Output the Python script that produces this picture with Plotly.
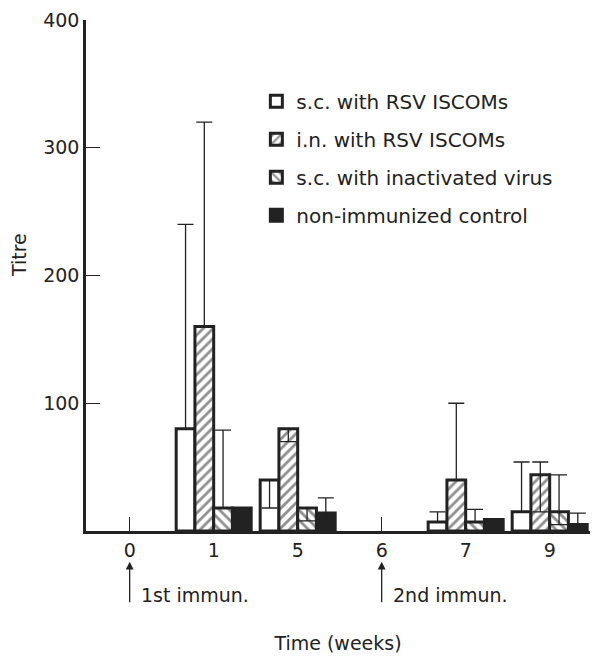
import plotly.graph_objects as go

# weeks after first immunization (category axis)
weeks = ["0", "1", "5", "6", "7", "9"]

# titres, None = no bar
sc_iscom = [None, 80, 40, None, 7, 15]
sc_iscom_up = [None, 160, None, None, 8, 39]
sc_iscom_dn = [None, None, 22, None, None, None]

in_iscom = [None, 160, 80, None, 40, 44]
in_iscom_up = [None, 160, None, None, 60, 10]
in_iscom_dn = [None, None, 10, None, None, 29]

sc_virus = [None, 18, 18, None, 7, 15]
sc_virus_up = [None, 61, None, None, 10, 29]
sc_virus_dn = [None, None, 10, None, None, 10]

control = [None, 18, 14, None, 9, 5]
control_up = [None, None, 12, None, None, 9]

names = ["s.c. with RSV ISCOMs", "i.n. with RSV ISCOMs",
         "s.c. with inactivated virus", "non-immunized control"]

arrow_weeks = ["0", "6"]
arrow_texts = ["1st immun.", "2nd immun."]

ink = "#222222"
font = "DejaVu Sans"


def err(up, dn=None):
    d = dict(type="data", array=up, symmetric=dn is None,
             color=ink, thickness=1.3, width=8)
    if dn is not None:
        d["arrayminus"] = dn
    return d


fig = go.Figure()

series = [
    (sc_iscom, sc_iscom_up, sc_iscom_dn, "white", ""),
    (in_iscom, in_iscom_up, in_iscom_dn, "white", "/"),
    (sc_virus, sc_virus_up, sc_virus_dn, "white", "\\"),
    (control, control_up, None, ink, ""),
]

for i, (vals, up, dn, col, shp) in enumerate(series):
    fig.add_trace(go.Bar(
        x=weeks, y=vals, name=names[i], legendgroup=str(i),
        error_y=err(up, dn),
        marker=dict(color=col, line=dict(color=ink, width=3),
                    pattern=dict(shape=shp, fgcolor=ink, bgcolor="white",
                                 size=7, solidity=0.4)),
    ))

# category axis: annotations are placed by category index
for wk, txt in zip(arrow_weeks, arrow_texts):
    xi = weeks.index(wk)
    fig.add_annotation(x=xi, y=-0.06, xref="x", yref="paper", text="",
                       showarrow=True, arrowhead=2, arrowsize=1.2,
                       arrowwidth=1.3, arrowcolor=ink, ax=0, ay=42)
    fig.add_annotation(x=xi, y=-0.125, xref="x", yref="paper", text=txt,
                       showarrow=False, xanchor="left", yanchor="middle",
                       xshift=9, font=dict(family=font, size=19, color=ink))

fig.add_annotation(x=-0.133, y=0.54, xref="paper", yref="paper", text="Titre",
                   textangle=-90, showarrow=False,
                   xanchor="center", yanchor="middle",
                   font=dict(family=font, size=19, color=ink))

# the page body adds an 8px offset, so the figure is shrunk by that much
fig.update_layout(
    width=594, height=653,
    margin=dict(l=78, r=12, t=12, b=130),
    paper_bgcolor="white", plot_bgcolor="white",
    barmode="group", bargap=0.107, bargroupgap=0,
    font=dict(family=font, size=19, color=ink),
    legend=dict(x=0.338, y=0.879, xanchor="left", yanchor="top",
                tracegroupgap=9, font=dict(size=20),
                bgcolor="rgba(0,0,0,0)"),
    xaxis=dict(type="category", categoryarray=weeks, range=[-0.52, 5.48],
               showline=True, linecolor=ink, linewidth=2.5,
               ticks="inside", ticklen=14, tickcolor=ink, tickwidth=1.3,
               showgrid=False, zeroline=False, automargin=False,
               title=dict(text="Time (weeks)", standoff=78,
                          font=dict(size=19))),
    yaxis=dict(range=[0, 400], tickvals=[100, 200, 300, 400],
               showline=True, linecolor=ink, linewidth=2.5,
               ticks="inside", ticklen=14, tickcolor=ink, tickwidth=1.3,
               ticklabeloverflow="allow",
               showgrid=False, zeroline=False, automargin=False),
)

fig.write_html("out.html")
